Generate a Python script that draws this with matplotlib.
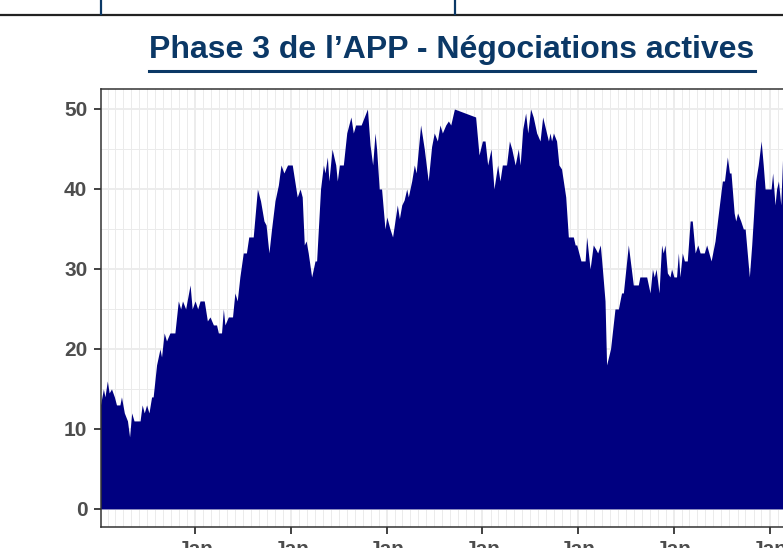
import pandas as pd
import matplotlib
matplotlib.use("Agg")
import matplotlib.pyplot as plt
import matplotlib.dates as mdates
from matplotlib.ticker import MultipleLocator
from matplotlib.lines import Line2D

# donnees
dates = [
    "2015-01-04", "2015-01-15", "2015-01-21", "2015-01-30", "2015-02-06", "2015-02-15",
    "2015-02-26", "2015-03-06", "2015-03-19", "2015-03-25", "2015-04-05", "2015-04-17",
    "2015-04-25", "2015-05-03", "2015-05-12", "2015-06-04", "2015-06-12", "2015-06-20",
    "2015-06-29", "2015-07-08", "2015-07-18", "2015-07-24", "2015-08-06", "2015-08-19",
    "2015-08-25", "2015-09-04", "2015-09-13", "2015-09-26", "2015-10-15", "2015-10-28",
    "2015-11-06", "2015-11-13", "2015-11-25", "2015-12-12", "2015-12-20", "2015-12-31",
    "2016-01-10", "2016-01-19", "2016-02-04", "2016-02-16", "2016-02-26", "2016-03-10",
    "2016-03-22", "2016-03-29", "2016-04-10", "2016-04-17", "2016-04-23", "2016-05-06",
    "2016-05-22", "2016-05-31", "2016-06-09", "2016-06-19", "2016-07-02", "2016-07-14",
    "2016-07-23", "2016-08-09", "2016-08-25", "2016-09-06", "2016-09-19", "2016-09-27",
    "2016-10-08", "2016-10-18", "2016-10-31", "2016-11-13", "2016-11-23", "2016-12-04",
    "2016-12-18", "2017-01-05", "2017-01-24", "2017-02-04", "2017-02-12", "2017-02-20",
    "2017-02-27", "2017-03-07", "2017-03-20", "2017-04-02", "2017-04-08", "2017-04-23",
    "2017-05-04", "2017-05-10", "2017-05-19", "2017-05-25", "2017-06-06", "2017-06-20",
    "2017-06-26", "2017-07-04", "2017-07-19", "2017-08-01", "2017-08-17", "2017-08-26",
    "2017-09-04", "2017-09-25", "2017-10-19", "2017-10-29", "2017-11-08", "2017-11-17",
    "2017-11-23", "2017-12-03", "2017-12-12", "2017-12-25", "2018-01-01", "2018-01-13",
    "2018-01-23", "2018-02-01", "2018-02-10", "2018-02-18", "2018-02-27", "2018-03-08",
    "2018-03-18", "2018-03-24", "2018-04-06", "2018-04-16", "2018-04-23", "2018-05-10",
    "2018-05-24", "2018-06-08", "2018-06-21", "2018-07-01", "2018-07-13", "2018-07-23",
    "2018-08-01", "2018-08-14", "2018-08-24", "2018-09-02", "2018-09-16", "2018-12-06",
    "2018-12-19", "2019-01-01", "2019-01-11", "2019-01-21", "2019-02-03", "2019-02-14",
    "2019-02-28", "2019-03-09", "2019-03-18", "2019-04-03", "2019-04-14", "2019-04-23",
    "2019-05-06", "2019-05-18", "2019-05-25", "2019-06-04", "2019-06-15", "2019-06-23",
    "2019-07-04", "2019-07-14", "2019-07-27", "2019-08-09", "2019-08-19", "2019-08-30",
    "2019-09-10", "2019-09-16", "2019-09-22", "2019-09-29", "2019-10-11", "2019-10-20",
    "2019-10-30", "2019-11-15", "2019-11-25", "2019-12-14", "2019-12-21", "2019-12-27",
    "2020-01-12", "2020-01-28", "2020-02-03", "2020-02-16", "2020-02-28", "2020-03-08",
    "2020-03-16", "2020-03-26", "2020-04-03", "2020-04-13", "2020-04-19", "2020-05-04",
    "2020-05-21", "2020-06-03", "2020-06-15", "2020-06-22", "2020-07-11", "2020-07-30",
    "2020-08-18", "2020-08-24", "2020-09-19", "2020-10-02", "2020-10-11", "2020-10-18",
    "2020-10-25", "2020-11-05", "2020-11-15", "2020-11-21", "2020-11-28", "2020-12-07",
    "2020-12-17", "2020-12-23", "2021-01-01", "2021-01-11", "2021-01-18", "2021-01-24",
    "2021-02-02", "2021-02-10", "2021-02-21", "2021-03-04", "2021-03-12", "2021-03-23",
    "2021-04-02", "2021-04-11", "2021-04-27", "2021-05-06", "2021-05-23", "2021-06-07",
    "2021-06-20", "2021-07-05", "2021-07-13", "2021-07-24", "2021-08-01", "2021-08-07",
    "2021-08-19", "2021-08-25", "2021-09-01", "2021-09-13", "2021-09-23", "2021-09-30",
    "2021-10-16", "2021-10-25", "2021-11-09", "2021-11-19", "2021-11-30", "2021-12-08",
    "2021-12-15", "2022-01-07", "2022-01-13", "2022-01-22", "2022-01-28", "2022-02-04",
    "2022-02-13", "2022-02-20", "2022-03-01",
]
valeurs = [
    13, 15, 14, 16, 14.5, 15,
    14, 13, 13, 14, 12, 11,
    9, 12, 11, 11, 13, 12,
    13, 12, 14, 14, 18, 20,
    19, 22, 21, 22, 22, 26,
    25, 26, 25, 28, 25, 26,
    25, 26, 26, 23.5, 24, 23,
    23, 22, 22, 25, 23, 24,
    24, 27, 26, 29, 32, 32,
    34, 34, 40, 38.5, 36, 35.5,
    32, 35, 38.5, 40.5, 43, 42,
    43, 43, 39, 40, 39, 33,
    33.5, 32, 29, 31, 31, 40,
    43, 42, 44, 41, 45, 43,
    41, 43, 43, 47, 49, 47,
    48, 48, 50, 45.5, 43, 47,
    45, 40, 40, 35, 36.5, 35,
    34, 36, 38, 36.3, 38, 38.6,
    40, 39, 41, 43, 42, 48,
    45, 41, 45.3, 47, 46, 48,
    47, 48, 48.5, 48, 50, 49,
    44.25, 46, 46, 43, 45, 40,
    43, 41, 43, 43, 46, 45,
    43, 45, 43, 47.5, 49.5, 47,
    50, 49, 47, 46, 49, 47.5,
    46, 47, 46, 47, 46, 43,
    42.5, 39, 34, 34, 33, 33,
    31, 31, 34, 30, 33, 32.5,
    32, 33, 30, 26, 18, 20,
    25, 25, 27, 27, 33, 28,
    28, 29, 29, 27, 30, 29,
    30, 27, 33, 32, 33, 29.5,
    29, 30, 29, 29, 32, 29,
    32, 31, 31, 36, 36, 32,
    33, 32, 32, 33, 31, 33.5,
    37, 41, 41, 44, 42, 42,
    37, 36, 37, 36, 35, 35,
    29, 33, 41, 43, 46, 43,
    40, 40, 42, 38, 40, 41,
    38, 44, 43,
]
y_ticks = [0, 10, 20, 30, 40, 50]
titre = "Phase 3 de l\u2019APP - N\u00e9gociations actives"

dates = pd.to_datetime(dates)

bleu_titre = "#0b3866"
gris_txt = "#4d4d4d"

fig = plt.figure(figsize=(7.83, 5.48), dpi=100)
# le panneau depasse a droite (image recadree)
ax = fig.add_axes([100.5 / 783, 20.7 / 548, 800 / 783, 438.3 / 548])

ax.fill_between(dates, valeurs, 0, color="#000080", linewidth=0, zorder=2)

debut = pd.Timestamp("2015-01-04")
ax.set_xlim(debut, debut + pd.Timedelta(days=3054))
ax.set_ylim(-2.3, 52.5)

ax.xaxis.set_major_locator(mdates.YearLocator(month=1, day=1))
ax.xaxis.set_major_formatter(mdates.DateFormatter("%b\n%Y"))
ax.xaxis.set_minor_locator(mdates.MonthLocator())
ax.set_yticks(y_ticks)
ax.yaxis.set_minor_locator(MultipleLocator(5))

ax.set_axisbelow(True)
ax.grid(which="major", color="#ebebeb", linewidth=1.3)
ax.grid(which="minor", color="#ebebeb", linewidth=0.7)

for s in ax.spines.values():
    s.set_color("#333333")
    s.set_linewidth(1.1)

ax.tick_params(which="major", length=5, width=1.3, color="#333333",
               labelsize=15, labelcolor=gris_txt, pad=4.5)
ax.tick_params(which="minor", length=0)
for lab in ax.get_xticklabels() + ax.get_yticklabels():
    lab.set_fontweight("bold")
    lab.set_fontfamily("Liberation Sans")

# titre souligne
t = fig.text(452 / 783, 1 - 58 / 548, titre, ha="center", va="baseline",
             fontsize=23, fontweight="bold", color=bleu_titre,
             family="Liberation Sans")
fig.canvas.draw()
bb = t.get_window_extent(fig.canvas.get_renderer())
fig.add_artist(Line2D([bb.x0 / 783, bb.x1 / 783], [1 - 71 / 548, 1 - 71 / 548],
                      transform=fig.transFigure, color=bleu_titre, linewidth=2.2))

# traits du tableau en haut
fig.add_artist(Line2D([0, 1], [1 - 15 / 548, 1 - 15 / 548],
                      transform=fig.transFigure, color="#222222", linewidth=1.6))
for xp in [101, 455]:
    fig.add_artist(Line2D([xp / 783, xp / 783], [1 - 14 / 548, 1],
                          transform=fig.transFigure, color=bleu_titre, linewidth=1.6))

fig.savefig("out.png", dpi=100)
